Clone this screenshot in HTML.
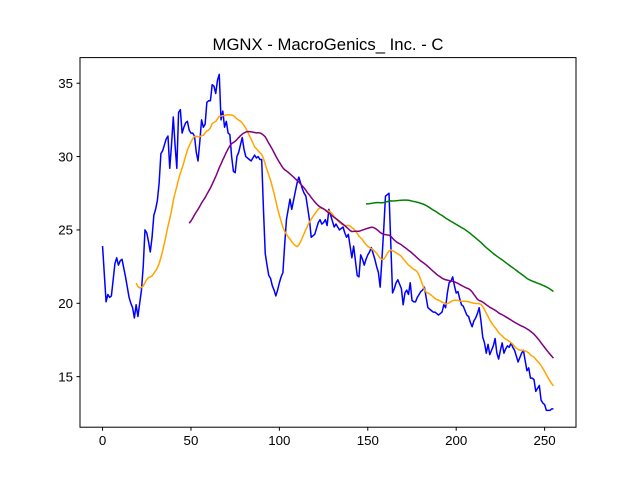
<!DOCTYPE html>
<html><head><meta charset="utf-8"><style>
body{margin:0;background:#fff;}
svg{display:block;font-family:"Liberation Sans","DejaVu Sans",sans-serif;}
</style></head><body>
<svg id="chart" width="640" height="480" viewBox="0 0 640 480" xmlns="http://www.w3.org/2000/svg">
<rect width="640" height="480" fill="#fff"/>
<text x="328" y="50" text-anchor="middle" font-size="16.7">MGNX - MacroGenics_ Inc. - C</text>
<g id="marks"></g>
<rect x="80" y="57.6" width="496" height="369.6" fill="none" stroke="#000" stroke-width="1"/>
<g id="axes"></g>
</svg>
<script>
const closes = [23.9,22.0,20.1,20.6,20.4,20.5,21.6,22.7,23.1,22.6,22.9,23.0,22.4,21.8,21.1,20.4,20.0,19.7,19.0,19.9,
19.1,20.0,20.9,22.5,25.0,24.8,24.2,23.5,24.5,26.0,26.4,27.0,28.2,30.2,30.4,30.8,31.2,31.4,29.2,30.8,
32.7,30.8,29.2,33.0,33.2,31.6,32.0,32.3,32.4,31.8,31.6,31.6,31.4,30.3,29.7,31.0,32.5,32.0,32.2,33.7,
33.8,33.8,34.9,34.8,34.3,35.2,35.6,32.5,33.1,32.0,32.4,31.6,31.5,30.0,29.0,28.9,30.0,30.3,30.8,31.3,
30.5,30.0,29.9,29.8,29.7,29.9,30.1,29.9,30.0,29.8,29.8,26.4,23.4,22.6,21.9,21.7,21.2,20.9,20.5,20.9,
21.4,21.8,22.1,24.0,25.7,26.4,27.1,26.4,27.0,27.6,28.2,28.6,28.2,27.8,27.5,27.3,26.5,25.7,24.5,24.6,
24.7,25.1,25.5,25.7,25.4,25.5,25.7,25.3,26.4,26.0,25.6,25.2,25.4,25.2,25.0,25.1,25.2,24.8,24.5,24.7,
23.9,23.1,23.9,22.9,21.9,21.8,23.3,23.0,22.6,23.0,23.3,23.5,23.8,23.4,23.0,22.5,22.1,21.1,23.0,25.0,
27.3,27.4,27.5,24.1,20.7,21.0,21.4,21.6,21.3,21.0,19.9,20.7,20.9,20.6,21.4,20.2,20.1,20.1,20.4,20.6,
20.8,20.9,21.1,20.4,19.7,19.6,19.5,19.4,19.4,19.3,19.2,19.3,19.4,19.9,19.7,20.7,21.4,21.5,21.8,21.2,
20.7,20.8,20.3,19.9,19.8,19.5,19.2,19.1,18.7,18.4,18.8,19.0,19.3,19.7,18.8,17.7,17.3,16.6,17.2,16.5,
16.8,17.1,17.6,16.6,16.2,16.8,17.3,16.6,16.9,17.1,17.0,17.3,17.0,16.8,16.4,16.0,16.3,16.6,16.8,16.1,
15.4,15.6,14.9,14.9,14.8,14.0,14.2,14.4,13.4,13.2,13.1,12.7,12.7,12.7,12.8,12.8];
const maWindows = [20, 50, 150];
const maColors = ["orange", "purple", "green"];
const xTicks = [0, 50, 100, 150, 200, 250];
const yTicks = [15, 20, 25, 30, 35];

const NS = "http://www.w3.org/2000/svg";
const L = 80, R = 576, T = 57.6, B = 427.2;
const n = closes.length;
const xmin = -0.05 * (n - 1), xmax = (n - 1) * 1.05;
const dmin = Math.min(...closes), dmax = Math.max(...closes);
const ymin = dmin - 0.05 * (dmax - dmin), ymax = dmax + 0.05 * (dmax - dmin);
const sx = v => L + (v - xmin) / (xmax - xmin) * (R - L);
const sy = v => B - (v - ymin) / (ymax - ymin) * (B - T);

function rolling(arr, w) {
  const out = [];
  for (let i = w - 1; i < arr.length; i++) {
    let s = 0; for (let j = i - w + 1; j <= i; j++) s += arr[j];
    out.push([i, s / w]);
  }
  return out;
}
const marks = document.getElementById("marks");
function line(pts, color, name) {
  const p = document.createElementNS(NS, "path");
  p.setAttribute("d", pts.map((q, k) => (k ? "L" : "M") + sx(q[0]).toFixed(2) + " " + sy(q[1]).toFixed(2)).join(""));
  p.setAttribute("fill", "none");
  p.setAttribute("stroke", color);
  p.setAttribute("stroke-width", "1.5");
  p.setAttribute("stroke-linejoin", "round");
  
  
  marks.appendChild(p);
}
line(closes.map((v, i) => [i, v]), "blue", "close-price-line");
maWindows.forEach((w, k) => line(rolling(closes, w), maColors[k], "ma-" + w + "-line"));

const axes = document.getElementById("axes");
xTicks.forEach(t => {
  const x = sx(t);
  const l = document.createElementNS(NS, "line");
  l.setAttribute("x1", x); l.setAttribute("x2", x); l.setAttribute("y1", B); l.setAttribute("y2", B + 3.5);
  l.setAttribute("stroke", "#000");
  
  
  axes.appendChild(l);
  const tx = document.createElementNS(NS, "text");
  tx.setAttribute("x", x); tx.setAttribute("y", B + 18); tx.setAttribute("text-anchor", "middle");
  tx.setAttribute("font-size", "13.3");
  tx.textContent = t;
  
  
  axes.appendChild(tx);
});
yTicks.forEach(t => {
  const y = sy(t);
  const l = document.createElementNS(NS, "line");
  l.setAttribute("x1", L - 3.5); l.setAttribute("x2", L); l.setAttribute("y1", y); l.setAttribute("y2", y);
  l.setAttribute("stroke", "#000");
  
  
  axes.appendChild(l);
  const tx = document.createElementNS(NS, "text");
  tx.setAttribute("x", L - 7); tx.setAttribute("y", y + 4.8); tx.setAttribute("text-anchor", "end");
  tx.setAttribute("font-size", "13.3");
  tx.textContent = t;
  
  
  axes.appendChild(tx);
});
</script>
</body></html>
